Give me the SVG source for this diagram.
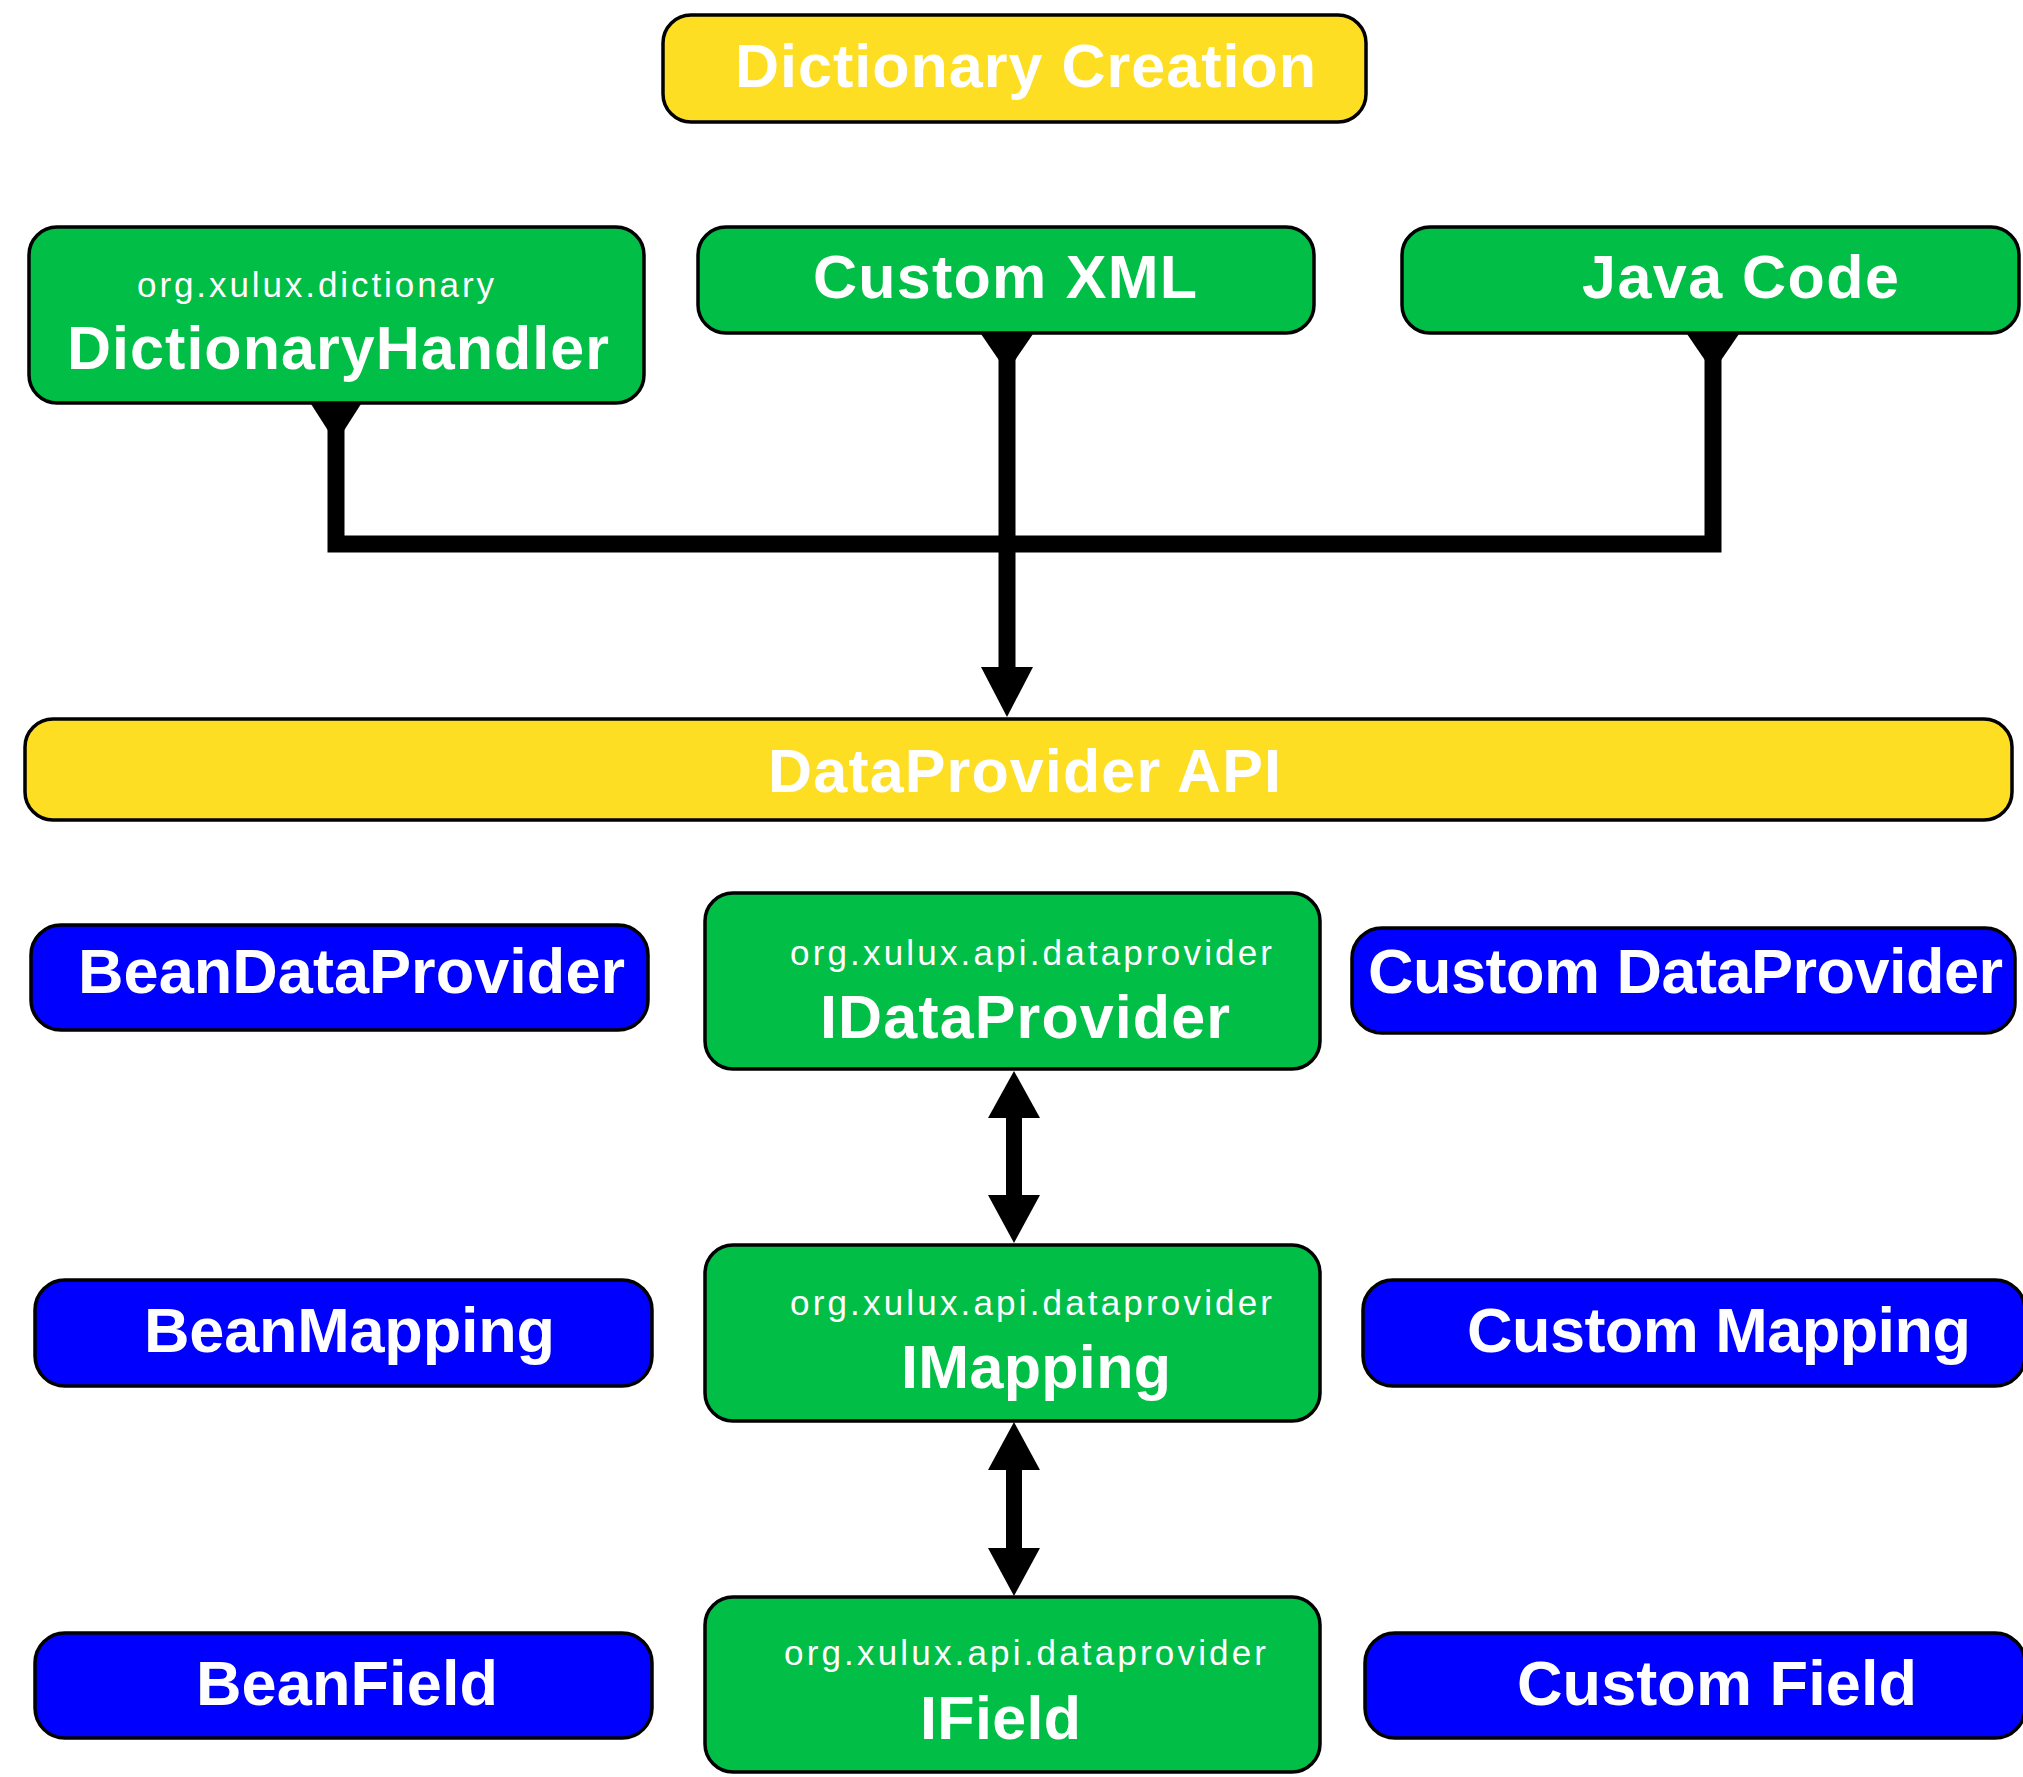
<svg xmlns="http://www.w3.org/2000/svg" width="2023" height="1777" viewBox="0 0 2023 1777">
<style>
.box{stroke:#000;stroke-width:3.5}
.y{fill:#FEDE22}
.g{fill:#00BE46}
.b{fill:#0000FF}
.t{font-family:"Liberation Sans",Arial,sans-serif;font-weight:bold;fill:#fff}
.s{font-family:"Liberation Sans",Arial,sans-serif;font-weight:normal;fill:#fff;font-size:35px}
.line{fill:none;stroke:#000;stroke-width:17;stroke-linecap:butt;stroke-linejoin:miter}
.head{fill:#000}
</style>
<rect width="2023" height="1777" fill="#fff"/>
<g id="connectors">
  <path class="line" d="M336,404 V544 H1713 V334"/>
  <path class="line" d="M1007,334 V670"/>
  <path class="head" d="M311,404 L361,404 L336,443 Z"/>
  <path class="head" d="M981,334 L1033,334 L1007,372 Z"/>
  <path class="head" d="M1687,334 L1739,334 L1713,372 Z"/>
  <path class="head" d="M981,667 L1033,667 L1007,717 Z"/>
  <path class="line" d="M1014,1116 V1197" style="stroke-width:16"/>
  <path class="head" d="M1014,1071 L1040,1118 L988,1118 Z"/>
  <path class="head" d="M988,1195 L1040,1195 L1014,1243 Z"/>
  <path class="line" d="M1014,1468 V1550" style="stroke-width:16"/>
  <path class="head" d="M1014,1422 L1040,1470 L988,1470 Z"/>
  <path class="head" d="M988,1548 L1040,1548 L1014,1596 Z"/>
</g>
<g id="dictionary-creation">
  <rect class="box y" x="663" y="15" width="703" height="107" rx="28"/>
  <text class="t" x="735" y="87" font-size="61" textLength="581">Dictionary Creation</text>
</g>
<g id="dictionary-handler">
  <rect class="box g" x="29" y="227" width="615" height="176" rx="28"/>
  <text class="s" x="137" y="297" textLength="357" lengthAdjust="spacing">org.xulux.dictionary</text>
  <text class="t" x="67" y="369" font-size="61" textLength="542">DictionaryHandler</text>
</g>
<g id="custom-xml">
  <rect class="box g" x="698" y="227" width="616" height="106" rx="28"/>
  <text class="t" x="813" y="298" font-size="61" textLength="384">Custom XML</text>
</g>
<g id="java-code">
  <rect class="box g" x="1402" y="227" width="617" height="106" rx="28"/>
  <text class="t" x="1582" y="298" font-size="61" textLength="317">Java Code</text>
</g>
<g id="dataprovider-api">
  <rect class="box y" x="25" y="719" width="1987" height="101" rx="28"/>
  <text class="t" x="768" y="792" font-size="61" textLength="513">DataProvider API</text>
</g>
<g id="bean-dataprovider">
  <rect class="box b" x="31" y="925" width="617" height="105" rx="30"/>
  <text class="t" x="78" y="993" font-size="63" textLength="547">BeanDataProvider</text>
</g>
<g id="idataprovider">
  <rect class="box g" x="705" y="893" width="615" height="176" rx="28"/>
  <text class="s" x="790" y="965" textLength="482" lengthAdjust="spacing">org.xulux.api.dataprovider</text>
  <text class="t" x="820" y="1038" font-size="61" textLength="410">IDataProvider</text>
</g>
<g id="custom-dataprovider">
  <rect class="box b" x="1352" y="928" width="663" height="105" rx="30"/>
  <text class="t" x="1368" y="993" font-size="63" textLength="635">Custom DataProvider</text>
</g>
<g id="bean-mapping">
  <rect class="box b" x="35" y="1280" width="617" height="106" rx="30"/>
  <text class="t" x="144" y="1352" font-size="63" textLength="411">BeanMapping</text>
</g>
<g id="imapping">
  <rect class="box g" x="705" y="1245" width="615" height="176" rx="28"/>
  <text class="s" x="790" y="1315" textLength="482" lengthAdjust="spacing">org.xulux.api.dataprovider</text>
  <text class="t" x="901" y="1388" font-size="61" textLength="270">IMapping</text>
</g>
<g id="custom-mapping">
  <rect class="box b" x="1363" y="1280" width="662" height="106" rx="30"/>
  <text class="t" x="1467" y="1352" font-size="63" textLength="504">Custom Mapping</text>
</g>
<g id="bean-field">
  <rect class="box b" x="35" y="1633" width="617" height="105" rx="30"/>
  <text class="t" x="196" y="1705" font-size="63" textLength="302">BeanField</text>
</g>
<g id="ifield">
  <rect class="box g" x="705" y="1597" width="615" height="175" rx="28"/>
  <text class="s" x="784" y="1665" textLength="482" lengthAdjust="spacing">org.xulux.api.dataprovider</text>
  <text class="t" x="920" y="1739" font-size="61" textLength="161">IField</text>
</g>
<g id="custom-field">
  <rect class="box b" x="1365" y="1633" width="660" height="105" rx="30"/>
  <text class="t" x="1517" y="1705" font-size="63" textLength="400">Custom Field</text>
</g>
</svg>
